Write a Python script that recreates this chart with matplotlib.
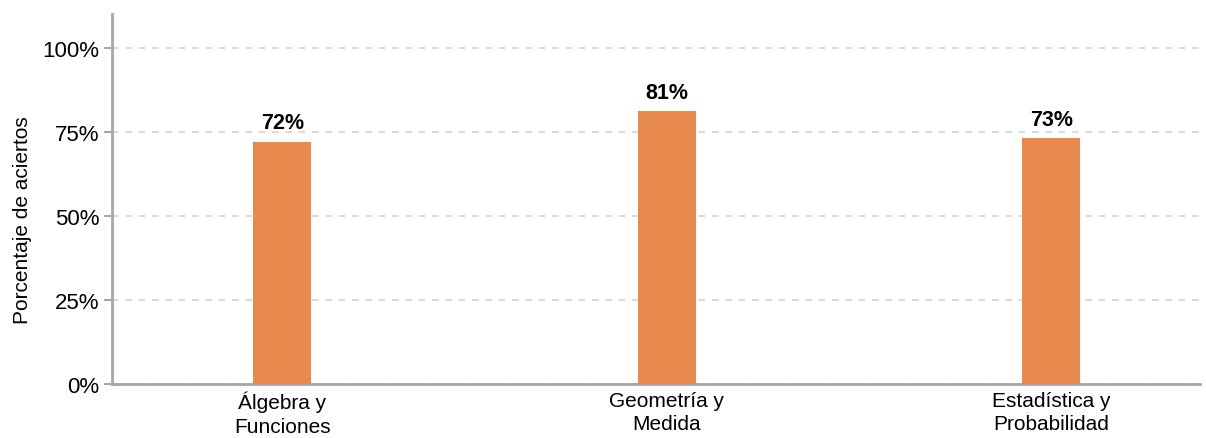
import matplotlib.pyplot as plt

plt.rcParams['font.family'] = ['Liberation Sans', 'DejaVu Sans']

categories = ['Álgebra y\nFunciones', 'Geometría y\nMedida', 'Estadística y\nProbabilidad']
values = [72, 81, 73]
yticks = [0, 25, 50, 75, 100]

bar_color = '#E8894E'
axis_gray = '#a6a6a6'

fig = plt.figure(figsize=(12.06, 4.39), dpi=100)
ax = fig.add_axes([0.0929, 0.123, 0.902, 0.843])

x = range(len(categories))
bars = ax.bar(x, values, width=0.151, color=bar_color, zorder=3)
for b, v in zip(bars, values):
    ax.annotate(f'{v}%', (b.get_x() + b.get_width() / 2, v), xytext=(0, 6),
                textcoords='offset points', ha='center', va='bottom',
                fontsize=15.5, fontweight='bold', color='black')

ax.set_xlim(-0.443, 2.386)
ax.set_ylim(0, 110)
ax.set_yticks(yticks)
ax.set_yticklabels([f'{t}%' for t in yticks], fontsize=16)
ax.set_xticks(list(x))
ax.set_xticklabels(categories, fontsize=15, linespacing=1.3)
ax.tick_params(axis='x', length=0, pad=5)
ax.tick_params(axis='y', length=6, width=1.5, color=axis_gray, pad=3)

ax.yaxis.grid(True, linestyle=(0, (4, 4)), color='#d4d4d4', linewidth=1.2, zorder=0)
for s in ['top', 'right']:
    ax.spines[s].set_visible(False)
for s in ['left', 'bottom']:
    ax.spines[s].set_color(axis_gray)
    ax.spines[s].set_linewidth(2)

ax.set_ylabel('Porcentaje de aciertos', fontsize=15)
ax.yaxis.set_label_coords(-0.074, 0.446)

fig.savefig('out.png', dpi=100)
